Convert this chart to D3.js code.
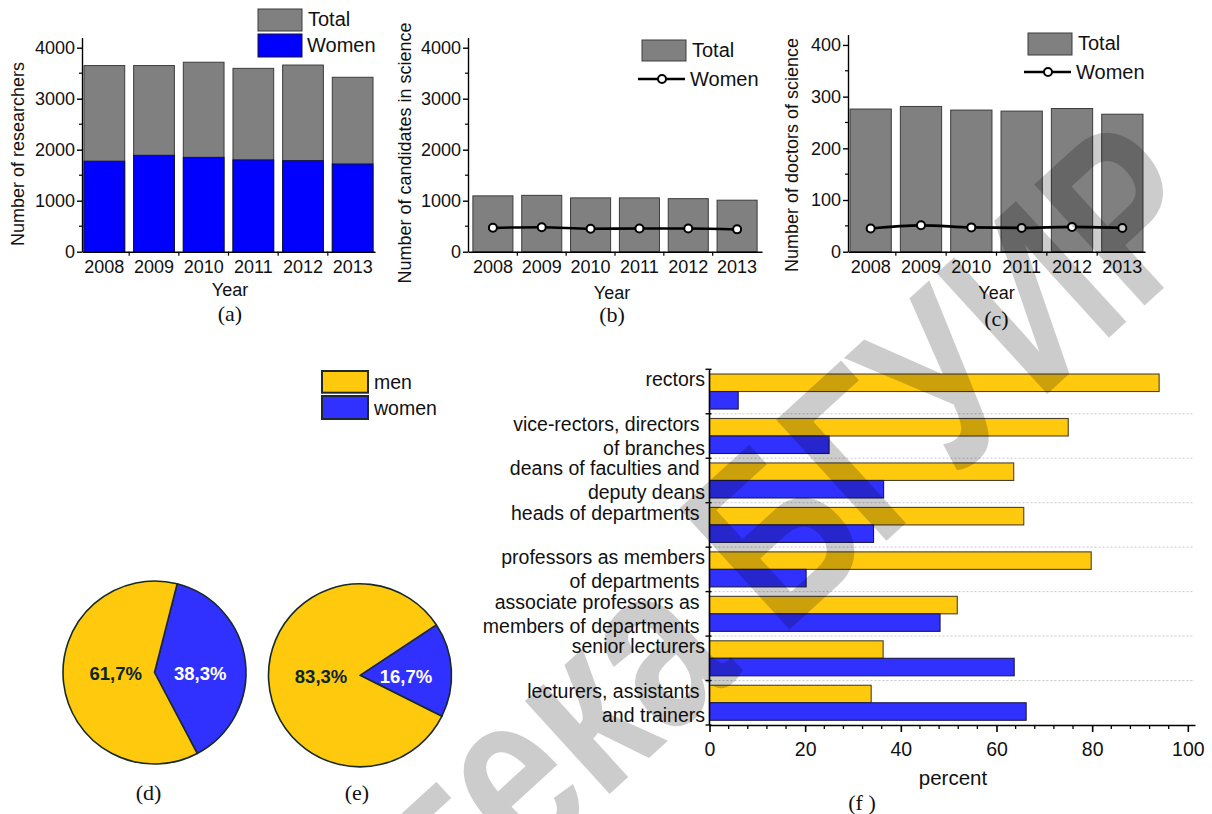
<!DOCTYPE html>
<html><head><meta charset="utf-8">
<script src="https://cdn.jsdelivr.net/npm/d3@7"></script>
<style>
body{margin:0;background:#fff;}
svg{display:block;font-family:"Liberation Sans",Arial,Helvetica,sans-serif;}
</style></head><body>
<svg id="fig" width="1212" height="814"></svg>
<script>
// ---- data ----
const years = ["2008", "2009", "2010", "2011", "2012", "2013"];
const researchersTotal = [3650, 3650, 3715, 3595, 3660, 3420];
const researchersWomen = [1775, 1890, 1850, 1800, 1785, 1720];
const candidatesTotal = [1095, 1105, 1055, 1055, 1040, 1010];
const candidatesWomen = [468, 480, 450, 455, 455, 438];
const doctorsTotal = [276, 281, 274, 272, 277, 266];
const doctorsWomen = [45, 51, 47, 46, 48, 46];

const sexes = ["women", "men"];
const shareD = [38.3, 61.7];
const shareE = [16.7, 83.3];

const positions = ["rectors", "vice-rectors", "deans", "heads", "professors", "associate", "senior", "lecturers"];
const positionLabels = [
  ["rectors"],
  ["vice-rectors, directors ", "of branches"],
  ["deans of faculties and ", "deputy deans"],
  ["heads of departments "],
  ["professors as members", "of departments "],
  ["associate professors as ", "members of departments "],
  ["senior lecturers"],
  ["lecturers, assistants ", "and trainers"]
];
const menPct = [94, 75, 63.6, 65.7, 79.8, 51.8, 36.3, 33.8];
const womenPct = [6, 25, 36.4, 34.3, 20.2, 48.2, 63.7, 66.2];
const pctTicks = [0, 20, 40, 60, 80, 100];

const stamp = "Библиотека БГУИР";

// ---- styles ----
const GRAY = "#808080", BLUE = "#0000ff", YELLOW = "#ffc90e", BLUE2 = "#3030ff";
const svg = d3.select("#fig");

function styleAxis(g, w) {
  g.selectAll("path.domain").attr("stroke", "#000").attr("stroke-width", w);
  g.selectAll(".tick line").attr("stroke", "#000").attr("stroke-width", w);
}

// ---- panels (a)-(c): yearly bars ----
function yearPanel(o) {
  const g = svg.append("g");
  const base = 251.7;
  const x = d3.scaleBand().domain(years).range([o.left, o.right])
    .paddingInner(0.18).paddingOuter(o.padOuter);
  const y = d3.scaleLinear().domain([0, o.yMax]).range([base, o.topPx]);

  g.selectAll("rect.total").data(o.total).join("rect").attr("class", "total")
    .attr("x", (d, i) => x(years[i])).attr("width", x.bandwidth())
    .attr("y", d => y(d)).attr("height", d => base - y(d))
    .attr("fill", GRAY).attr("stroke", "#3c3c3c").attr("stroke-width", 1);

  if (o.womenBars) {
    g.selectAll("rect.women").data(o.women).join("rect").attr("class", "women")
      .attr("x", (d, i) => x(years[i])).attr("width", x.bandwidth())
      .attr("y", d => y(d)).attr("height", d => base - y(d))
      .attr("fill", BLUE).attr("stroke", "#101040").attr("stroke-width", 1);
  } else {
    const cx = (d, i) => x(years[i]) + x.bandwidth() / 2;
    g.append("path").datum(o.women)
      .attr("d", d3.line().x(cx).y(d => y(d)).curve(d3.curveMonotoneX))
      .attr("fill", "none").attr("stroke", "#000").attr("stroke-width", 2.6);
    g.selectAll("circle.women").data(o.women).join("circle").attr("class", "women")
      .attr("cx", cx).attr("cy", d => y(d)).attr("r", 4)
      .attr("fill", "#fff").attr("stroke", "#000").attr("stroke-width", 2);
  }

  // y axis
  const yAxis = d3.axisLeft(y).tickValues(d3.range(0, o.yTickMax + 1, o.yStep))
    .tickSize(5).tickSizeOuter(0).tickPadding(2).tickFormat(d3.format("d"));
  const ya = g.append("g").attr("transform", `translate(${o.left},0)`).call(yAxis);
  styleAxis(ya, 1.4);
  ya.selectAll("text").attr("font-size", 18).attr("fill", "#111")
    .attr("font-family", "'Liberation Sans',Arial,sans-serif");
  g.selectAll("line.minor").data(d3.range(o.yStep / 2, o.yTickMax, o.yStep)).join("line")
    .attr("class", "minor").attr("x1", o.left - 3).attr("x2", o.left)
    .attr("y1", d => y(d)).attr("y2", d => y(d)).attr("stroke", "#000").attr("stroke-width", 1.2);

  // x axis
  const xAxis = d3.axisBottom(x).tickSize(0).tickSizeOuter(0).tickPadding(9);
  const xa = g.append("g").attr("transform", `translate(0,${base})`).call(xAxis);
  styleAxis(xa, 1.4);
  xa.selectAll("text").attr("font-size", 18).attr("fill", "#111")
    .attr("font-family", "'Liberation Sans',Arial,sans-serif");
  const gap = x.step() * x.paddingInner() / 2;
  g.selectAll("line.xt").data(years.slice(1)).join("line").attr("class", "xt")
    .attr("x1", d => x(d) - gap).attr("x2", d => x(d) - gap)
    .attr("y1", base).attr("y2", base + 4).attr("stroke", "#000").attr("stroke-width", 1.2);

  // titles
  g.append("text").attr("transform", `translate(${o.ylabelX},${o.ylabelY}) rotate(-90)`)
    .attr("text-anchor", "middle").attr("dominant-baseline", "central")
    .attr("font-size", 18).attr("fill", "#111").text(o.ylabel);
  const mid = (o.left + o.right) / 2 + o.titleShift;
  g.append("text").attr("x", mid).attr("y", o.yearY).attr("text-anchor", "middle")
    .attr("dominant-baseline", "central").attr("font-size", 18).attr("fill", "#111").text("Year");
  g.append("text").attr("x", mid).attr("y", o.capY).attr("text-anchor", "middle")
    .attr("dominant-baseline", "central").attr("font-size", 22)
    .attr("font-family", "'Liberation Serif','Times New Roman',serif").attr("fill", "#111").text(o.caption);

  // legend
  const L = o.legend;
  g.append("rect").attr("x", L.x).attr("y", L.y1).attr("width", 44).attr("height", L.h1)
    .attr("fill", GRAY).attr("stroke", "#3c3c3c").attr("stroke-width", 1);
  g.append("text").attr("x", L.x + 50).attr("y", L.y1 + L.h1 / 2 - 1).attr("dominant-baseline", "central")
    .attr("font-size", 20).attr("fill", "#111").text("Total");
  if (o.womenBars) {
    g.append("rect").attr("x", L.x).attr("y", L.y2).attr("width", 44).attr("height", L.h2)
      .attr("fill", BLUE).attr("stroke", "#101040").attr("stroke-width", 1);
    g.append("text").attr("x", L.x + 49).attr("y", L.y2 + L.h2 / 2 - 0.5).attr("dominant-baseline", "central")
      .attr("font-size", 20).attr("fill", "#111").text("Women");
  } else {
    g.append("line").attr("x1", L.x - 4).attr("x2", L.x + 43).attr("y1", L.y2).attr("y2", L.y2)
      .attr("stroke", "#000").attr("stroke-width", 2.6);
    g.append("circle").attr("cx", L.x + 20).attr("cy", L.y2).attr("r", 4)
      .attr("fill", "#fff").attr("stroke", "#000").attr("stroke-width", 2);
    g.append("text").attr("x", L.x + 48).attr("y", L.y2).attr("dominant-baseline", "central")
      .attr("font-size", 20).attr("fill", "#111").text("Women");
  }
}

yearPanel({left: 82, right: 375, padOuter: 0.04, yMax: 4200, topPx: 37.5, yTickMax: 4000, yStep: 1000,
  total: researchersTotal, women: researchersWomen, womenBars: true,
  ylabel: "Number of researchers", ylabelX: 18, ylabelY: 154, titleShift: 1.5, yearY: 290, capY: 313, caption: "(a)",
  legend: {x: 258, y1: 9, h1: 22, y2: 34, h2: 23}});
yearPanel({left: 468, right: 762, padOuter: 0.1, yMax: 4200, topPx: 37.5, yTickMax: 4000, yStep: 1000,
  total: candidatesTotal, women: candidatesWomen, womenBars: false,
  ylabel: "Number of candidates in science", ylabelX: 405, ylabelY: 153, titleShift: -3, yearY: 293, capY: 314, caption: "(b)",
  legend: {x: 642, y1: 40, h1: 21, y2: 79}});
yearPanel({left: 848, right: 1145, padOuter: 0.04, yMax: 420, topPx: 34.6, yTickMax: 400, yStep: 100,
  total: doctorsTotal, women: doctorsWomen, womenBars: false,
  ylabel: "Number of doctors of science", ylabelX: 792, ylabelY: 155, titleShift: 0, yearY: 293, capY: 318, caption: "(c)",
  legend: {x: 1028, y1: 33, h1: 22, y2: 72}});

// ---- panels (d), (e): pies ----
const sexColor = d3.scaleOrdinal().domain(sexes).range([BLUE2, YELLOW]);
const fmtPct = v => d3.format(".1f")(v).replace(".", ",") + "%";
function piePanel(values, cx, cy, startDeg, caption, capShift) {
  const g = svg.append("g").attr("transform", `translate(${cx},${cy})`);
  const start = startDeg * Math.PI / 180;
  const arcs = d3.pie().sort(null).startAngle(start).endAngle(start + 2 * Math.PI)(values);
  const arc = d3.arc().innerRadius(0).outerRadius(91.5);
  g.selectAll("path").data(arcs).join("path").attr("d", arc)
    .attr("fill", (d, i) => sexColor(sexes[i])).attr("stroke", "#172a2a").attr("stroke-width", 1.6)
    .attr("stroke-linejoin", "round");
  g.selectAll("text").data(arcs).join("text")
    .attr("transform", (d, i) => {
      const r = i === 0 ? 46 : 39;
      const a = (d.startAngle + d.endAngle) / 2;
      return `translate(${r * Math.sin(a)},1)`;
    })
    .attr("text-anchor", "middle").attr("dominant-baseline", "central")
    .attr("font-size", 18.5).attr("font-weight", "bold")
    .attr("fill", (d, i) => i === 0 ? "#fff" : "#0c2626").text(d => fmtPct(d.data));
  svg.append("text").attr("x", cx + capShift).attr("y", 792).attr("text-anchor", "middle")
    .attr("dominant-baseline", "central").attr("font-size", 22)
    .attr("font-family", "'Liberation Serif','Times New Roman',serif").attr("fill", "#111").text(caption);
}
piePanel(shareD, 154.5, 672.5, 14.3, "(d)", -6);
piePanel(shareE, 360, 675.3, 56.5, "(e)", -3);

// pie legend
const pl = svg.append("g");
[["men", 371, 21.7], ["women", 396, 23]].forEach(([name, y0, h]) => {
  pl.append("rect").attr("x", 322).attr("y", y0).attr("width", 46).attr("height", h)
    .attr("fill", sexColor(name)).attr("stroke", "#1e2a2a").attr("stroke-width", 2);
  pl.append("text").attr("x", 374).attr("y", y0 + h / 2).attr("dominant-baseline", "central")
    .attr("font-size", 19.5).attr("fill", "#111").text(name);
});

// ---- panel (f): horizontal grouped bars ----
(function () {
  const g = svg.append("g");
  const top = 369.3, bottom = 725, x0 = 709.5;
  const y = d3.scaleBand().domain(positions).range([top, bottom]);
  const sub = d3.scaleBand().domain(sexes.slice().reverse()).range([0, y.bandwidth()]).paddingOuter(0.27);
  const x = d3.scaleLinear().domain([0, 101.5]).range([x0, 1195]);

  // dotted separators
  g.selectAll("line.sep").data(positions.slice(1)).join("line").attr("class", "sep")
    .attr("x1", x0 + 1).attr("x2", 1193).attr("y1", d => y(d)).attr("y2", d => y(d))
    .attr("stroke", "#c8c8c8").attr("stroke-width", 1).attr("stroke-dasharray", "2,2");

  const rows = positions.map((p, i) => ({p, men: menPct[i], women: womenPct[i]}));
  ["men", "women"].forEach(s => {
    g.selectAll(`rect.${s}`).data(rows).join("rect").attr("class", s)
      .attr("x", x(0)).attr("y", d => y(d.p) + sub(s))
      .attr("width", d => x(d[s]) - x(0)).attr("height", sub.bandwidth())
      .attr("fill", sexColor(s)).attr("stroke", s === "men" ? "#4a4128" : "#1a1a50").attr("stroke-width", 1.1);
  });

  // y axis
  g.append("line").attr("x1", x0).attr("x2", x0).attr("y1", top).attr("y2", bottom)
    .attr("stroke", "#000").attr("stroke-width", 1.6);
  g.selectAll("line.yt").data(positions.concat(["end"])).join("line").attr("class", "yt")
    .attr("x1", x0 - 4).attr("x2", x0 + 2)
    .attr("y1", (d, i) => top + i * y.step()).attr("y2", (d, i) => top + i * y.step())
    .attr("stroke", "#000").attr("stroke-width", 1.4);

  // category labels, first line beside the men bar, second beside the women bar
  positionLabels.forEach((lines, i) => {
    lines.forEach((t, j) => {
      g.append("text").attr("x", 705).attr("y", y(positions[i]) + 10 + j * 24)
        .attr("text-anchor", "end").attr("dominant-baseline", "central")
        .style("white-space", "pre").attr("font-size", 19.5).attr("fill", "#111").text(t);
    });
  });

  // x axis
  const xa = g.append("g").attr("transform", `translate(0,${bottom})`)
    .call(d3.axisBottom(x).tickValues(pctTicks).tickSize(7).tickSizeOuter(0).tickPadding(10));
  styleAxis(xa, 1.6);
  xa.selectAll("text").attr("font-size", 19.5).attr("fill", "#111")
    .attr("font-family", "'Liberation Sans',Arial,sans-serif");
  g.selectAll("line.xm").data(d3.range(4, 100, 4).filter(v => v % 20 !== 0)).join("line").attr("class", "xm")
    .attr("x1", d => x(d)).attr("x2", d => x(d)).attr("y1", bottom).attr("y2", bottom + 4)
    .attr("stroke", "#000").attr("stroke-width", 1.3);

  g.append("text").attr("x", 953).attr("y", 777).attr("text-anchor", "middle")
    .attr("dominant-baseline", "central").attr("font-size", 20.5).attr("fill", "#111").text("percent");
  g.append("text").attr("x", 862).attr("y", 802).attr("text-anchor", "middle")
    .attr("dominant-baseline", "central").attr("font-size", 22)
    .attr("font-family", "'Liberation Serif','Times New Roman',serif").attr("fill", "#111")
    .style("white-space", "pre").text("(f )");
})();

// ---- library stamp across the sheet ----
// The stamp is pinned by the start of its "ека" ending; the earlier letters run off the sheet.
const stampG = svg.append("g")
  .attr("transform", "translate(525,871) rotate(-42.4) scale(1,1.3)")
  .style("pointer-events", "none");
const stampText = stampG.append("text")
  .attr("font-size", 183).attr("font-weight", "bold")
  .attr("fill", "#000").attr("fill-opacity", 0.2).text(stamp);
const pin = stamp.indexOf("ека");
stampText.attr("x", -stampText.node().getSubStringLength(0, pin));
</script>
</body></html>
